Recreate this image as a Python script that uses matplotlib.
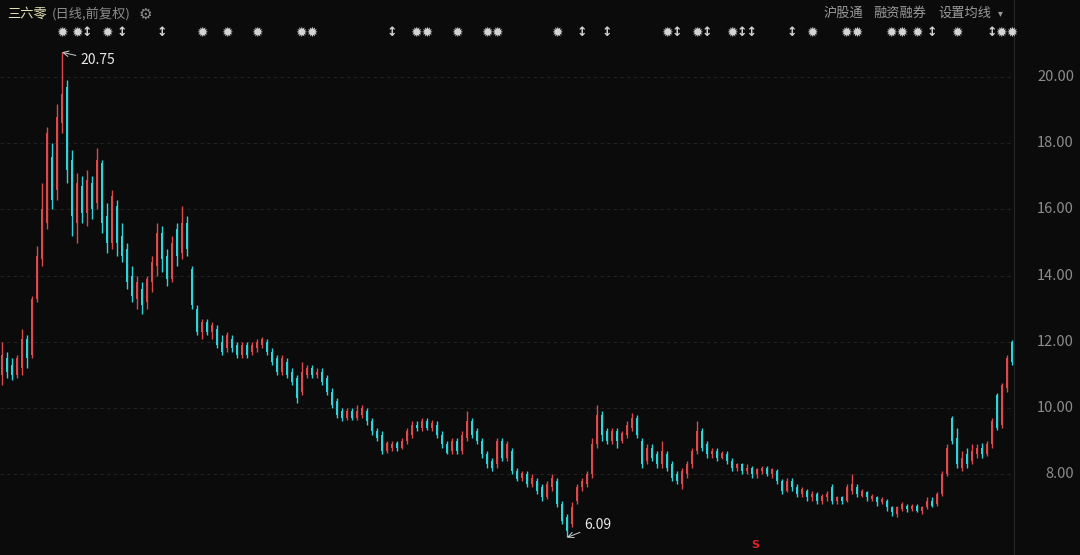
import numpy as np
import matplotlib
matplotlib.use("Agg")
from matplotlib import pyplot as plt
from matplotlib import transforms

plt.rcParams['font.family'] = ['Noto Sans CJK SC', 'DejaVu Sans']

# daily candles (前复权), one entry per bar
opens = [11.0, 11.5, 11.3, 11.0, 11.2, 12.1, 11.6, 13.3, 14.5, 15.6,
         17.6, 16.6, 18.6, 19.7, 17.5, 15.6, 16.7, 15.9, 16.8, 16.2,
         17.4, 15.8, 15.0, 16.1, 15.2, 14.8, 14.0, 13.3, 13.6, 13.2,
         13.8, 14.3, 15.3, 14.6, 13.9, 15.4, 14.7, 15.6, 14.2, 13.0,
         12.3, 12.6, 12.3, 12.4, 12.0, 11.8, 12.1, 11.9, 11.6, 11.9,
         11.7, 11.8, 11.9, 12.0, 11.7, 11.5, 11.1, 11.4, 11.1, 10.9,
         10.5, 11.0, 11.2, 11.0, 11.1, 10.9, 10.5, 10.2, 9.9, 9.7,
         9.9, 9.7, 9.8, 9.9, 9.6, 9.3, 9.2, 8.7, 8.8, 8.95,
         8.8, 9.0, 9.2, 9.5, 9.4, 9.6, 9.4, 9.5, 9.2, 8.9,
         8.7, 9.0, 8.7, 9.1, 9.6, 9.3, 9.0, 8.6, 8.4, 8.3,
         9.0, 8.5, 8.7, 8.1, 7.9, 8.0, 7.7, 7.8, 7.6, 7.3,
         7.6, 7.8, 7.1, 6.7, 6.5, 7.2, 7.6, 7.7, 8.0, 8.9,
         9.8, 9.3, 9.0, 9.3, 9.0, 9.2, 9.4, 9.7, 9.0, 8.4,
         8.8, 8.6, 8.3, 8.6, 8.3, 8.0, 7.7, 8.0, 8.3, 8.7,
         9.3, 8.9, 8.6, 8.7, 8.5, 8.6, 8.4, 8.2, 8.3, 8.1,
         8.2, 8.0, 8.1, 8.2, 8.0, 8.1, 7.8, 7.5, 7.8, 7.6,
         7.4, 7.5, 7.3, 7.4, 7.2, 7.3, 7.6, 7.2, 7.3, 7.2,
         7.5, 7.6, 7.35, 7.45, 7.25, 7.3, 7.15, 7.2, 7.0, 6.8,
         6.95, 7.05, 6.95, 7.05, 6.9, 7.0, 7.2, 7.1, 7.4, 8.0,
         9.7, 9.1, 8.2, 8.6, 8.4, 8.6, 8.8, 8.6, 8.9, 10.4,
         9.5, 10.6, 12.0]
closes = [11.6, 11.1, 11.0, 11.5, 12.1, 11.5, 13.3, 14.6, 16.0, 18.3,
          16.3, 18.8, 19.5, 17.2, 15.8, 16.8, 15.9, 16.9, 16.0, 17.5,
          15.6, 15.0, 16.4, 15.0, 14.6, 13.8, 13.4, 13.8, 13.1, 13.9,
          14.4, 15.3, 14.5, 13.9, 15.0, 14.6, 15.6, 14.8, 13.1, 12.3,
          12.6, 12.3, 12.5, 11.9, 11.7, 12.2, 11.8, 11.6, 11.9, 11.6,
          11.9, 12.0, 12.1, 11.7, 11.4, 11.1, 11.5, 11.0, 10.8, 10.3,
          11.1, 11.2, 11.0, 11.1, 10.8, 10.5, 10.1, 9.8, 9.7, 9.9,
          9.7, 9.9, 10.0, 9.6, 9.3, 9.1, 8.7, 8.95, 8.9, 8.8,
          9.0, 9.3, 9.5, 9.4, 9.6, 9.4, 9.55, 9.2, 8.9, 8.65,
          9.0, 8.7, 9.2, 9.6, 9.2, 9.0, 8.6, 8.3, 8.2, 9.0,
          8.5, 8.9, 8.1, 7.85, 8.05, 7.7, 7.9, 7.5, 7.3, 7.7,
          7.9, 7.1, 6.6, 6.3, 7.0, 7.6, 7.8, 8.0, 8.9, 9.8,
          9.2, 9.0, 9.3, 9.0, 9.25, 9.5, 9.7, 9.2, 8.3, 8.8,
          8.5, 8.3, 8.7, 8.2, 7.9, 7.8, 8.1, 8.3, 8.7, 9.3,
          8.8, 8.6, 8.7, 8.5, 8.65, 8.4, 8.2, 8.3, 8.1, 8.2,
          8.0, 8.15, 8.2, 8.0, 8.15, 7.8, 7.5, 7.8, 7.6, 7.4,
          7.55, 7.3, 7.4, 7.2, 7.35, 7.4, 7.2, 7.3, 7.2, 7.6,
          7.7, 7.4, 7.5, 7.3, 7.35, 7.15, 7.25, 7.0, 6.85, 7.0,
          7.1, 6.95, 7.05, 6.9, 7.0, 7.2, 7.05, 7.4, 8.0, 8.8,
          9.0, 8.3, 8.5, 8.3, 8.7, 8.8, 8.6, 8.9, 9.6, 9.4,
          10.7, 11.5, 11.4]
highs = [12.0, 11.7, 11.5, 11.6, 12.4, 12.2, 13.4, 14.9, 16.8, 18.5,
         18.0, 19.2, 20.75, 19.9, 17.8, 17.1, 17.0, 17.2, 17.0, 17.85,
         17.5, 16.2, 16.6, 16.3, 15.6, 15.0, 14.3, 14.0, 13.8, 14.0,
         14.6, 15.6, 15.5, 14.8, 15.2, 15.6, 16.1, 15.8, 14.3, 13.1,
         12.7, 12.7, 12.6, 12.5, 12.2, 12.3, 12.2, 12.0, 12.0, 12.0,
         12.0, 12.1, 12.15, 12.1, 11.8, 11.6, 11.6, 11.5, 11.2, 11.0,
         11.4, 11.3, 11.3, 11.2, 11.2, 11.0, 10.6, 10.3, 10.0, 10.0,
         10.0, 10.1, 10.1, 10.0, 9.7, 9.4, 9.3, 9.0, 9.0, 9.0,
         9.1, 9.4, 9.6, 9.6, 9.7, 9.7, 9.65, 9.6, 9.3, 9.0,
         9.1, 9.1, 9.3, 9.9, 9.7, 9.4, 9.1, 8.7, 8.5, 9.1,
         9.1, 9.0, 8.8, 8.2, 8.1, 8.1, 8.0, 7.9, 7.7, 7.8,
         8.0, 7.9, 7.2, 6.8, 7.15, 7.7, 7.9, 8.1, 9.1, 10.1,
         9.9, 9.4, 9.4, 9.4, 9.3, 9.6, 9.85, 9.8, 9.1, 8.9,
         8.9, 8.7, 9.0, 8.7, 8.4, 8.1, 8.2, 8.4, 8.8, 9.6,
         9.4, 9.0, 8.8, 8.8, 8.7, 8.7, 8.5, 8.35, 8.35, 8.3,
         8.25, 8.2, 8.25, 8.25, 8.2, 8.15, 7.85, 7.9, 7.9, 7.7,
         7.6, 7.55, 7.5, 7.45, 7.4, 7.5, 7.7, 7.35, 7.35, 7.7,
         8.0, 7.7, 7.55, 7.5, 7.4, 7.35, 7.3, 7.25, 7.05, 7.05,
         7.15, 7.1, 7.1, 7.1, 7.05, 7.3, 7.3, 7.45, 8.1, 8.9,
         9.75, 9.4, 8.7, 8.8, 8.9, 8.9, 8.95, 9.0, 9.7, 10.45,
         10.75, 11.6, 12.05]
lows = [10.7, 10.9, 10.85, 10.9, 11.0, 11.2, 11.5, 13.2, 14.3, 15.4,
        16.0, 16.3, 18.3, 16.8, 15.2, 15.0, 15.6, 15.5, 15.7, 16.0,
        15.3, 14.7, 14.8, 14.6, 14.4, 13.6, 13.2, 13.0, 12.85, 13.0,
        13.5, 14.0, 14.1, 13.7, 13.8, 14.3, 14.5, 14.6, 13.0, 12.2,
        12.1, 12.2, 12.1, 11.8, 11.6, 11.7, 11.7, 11.5, 11.5, 11.5,
        11.6, 11.7, 11.8, 11.6, 11.3, 11.0, 11.0, 10.9, 10.7, 10.15,
        10.4, 10.9, 10.9, 10.9, 10.7, 10.4, 10.0, 9.7, 9.6, 9.65,
        9.65, 9.65, 9.7, 9.5, 9.2, 9.0, 8.6, 8.65, 8.7, 8.7,
        8.75, 8.9, 9.1, 9.3, 9.3, 9.35, 9.3, 9.1, 8.8, 8.6,
        8.6, 8.6, 8.6, 9.0, 9.1, 8.9, 8.5, 8.2, 8.1, 8.2,
        8.4, 8.4, 8.0, 7.8, 7.8, 7.6, 7.6, 7.4, 7.2, 7.25,
        7.5, 7.0, 6.5, 6.09, 6.4, 7.1, 7.5, 7.6, 7.9, 8.8,
        9.0, 8.9, 8.9, 8.8, 8.95, 9.1, 9.3, 9.1, 8.2, 8.3,
        8.4, 8.2, 8.2, 8.1, 7.8, 7.7, 7.55, 7.9, 8.2, 8.6,
        8.7, 8.5, 8.5, 8.4, 8.45, 8.3, 8.1, 8.1, 8.0, 8.0,
        7.9, 7.9, 8.0, 7.95, 7.9, 7.7, 7.4, 7.45, 7.5, 7.3,
        7.3, 7.2, 7.2, 7.1, 7.1, 7.2, 7.1, 7.1, 7.1, 7.15,
        7.4, 7.3, 7.3, 7.2, 7.2, 7.05, 7.1, 6.9, 6.75, 6.7,
        6.9, 6.85, 6.9, 6.85, 6.8, 6.95, 7.0, 7.05, 7.35, 7.95,
        8.9, 8.2, 8.1, 8.2, 8.3, 8.5, 8.5, 8.55, 8.8, 9.35,
        9.4, 10.5, 11.3]

price_ticks = [8.0, 10.0, 12.0, 14.0, 16.0, 18.0, 20.0]

# event flags along the top row: bar index and kind
event_idx = [12, 15, 17, 21, 24, 32, 40, 45, 51, 61, 78, 84, 91, 97, 99,
             111, 116, 121, 133, 135, 139, 141, 146, 149, 158, 162, 170,
             179, 183, 186, 191, 198, 201]
event_kind = ['s', 's', 'a', 's', 'a', 'a', 's', 's', 's', 'ss', 'a', 'ss',
              's', 's', 's', 's', 'a', 'a', 's', 'a', 's', 'a', 's', 'aa',
              'a', 's', 'ss', 'ss', 's', 'a', 's', 'a', 'ss']

UP = '#dc4a4e'
DOWN = '#2fd3d8'
BG = '#0b0b0b'

o = np.array(opens)
c = np.array(closes)
h = np.array(highs)
l = np.array(lows)
x = np.arange(len(o))
up = c >= o

fig = plt.figure(figsize=(10.8, 5.55), dpi=100, facecolor=BG)
ax = fig.add_axes([0, 0, 1014 / 1080, 1])
ax.set_facecolor(BG)

ax.set_ylim(5.56, 22.33)
ax.set_xlim(-0.4, 202.4)

for t in price_ticks:
    ax.axhline(t, color='#222222', lw=0.8, ls=(0, (3, 3)), zorder=0)

colors = np.where(up, UP, DOWN)
ax.vlines(x, l, h, colors=colors, lw=1.0, zorder=2)
bottoms = np.minimum(o, c)
heights = np.maximum(np.abs(c - o), 0.03)
ax.bar(x, heights, bottom=bottoms, width=0.48, color=colors, lw=0, zorder=3)

for s in ['top', 'left', 'bottom']:
    ax.spines[s].set_visible(False)
ax.spines['right'].set_color('#262626')
ax.set_xticks([])
ax.set_yticks([])

# price labels on the right margin
for t in price_ticks:
    ax.annotate(f'{t:.2f}', xy=(1, t), xycoords=('axes fraction', 'data'),
                xytext=(60, 0), textcoords='offset pixels',
                ha='right', va='center', color='#8c8c8c', fontsize=10.5)

# high / low annotations
ih = int(np.argmax(h))
il = int(np.argmin(l))
ax.annotate(f'{h[ih]:.2f}', xy=(ih, h[ih]), xytext=(18, -8),
            textcoords='offset pixels', ha='left', va='center',
            color='#e8e8e8', fontsize=10,
            arrowprops=dict(arrowstyle='->', color='#d0d0d0', lw=0.7,
                            shrinkA=1, shrinkB=0))
ax.annotate(f'{l[il]:.2f}', xy=(il, l[il]), xytext=(17, 12),
            textcoords='offset pixels', ha='left', va='center',
            color='#e8e8e8', fontsize=10,
            arrowprops=dict(arrowstyle='->', color='#d0d0d0', lw=0.7,
                            shrinkA=1, shrinkB=0))

# event row
trans = transforms.blended_transform_factory(ax.transData, ax.transAxes)
glyph = {'s': '\u2739', 'a': '\u2195'}
for ix, kind in zip(event_idx, event_kind):
    label = ''.join(glyph[k] for k in kind)
    size = 10 if kind[0] == 's' else 9
    ax.text(ix, 1 - 33 / 555, label, transform=trans, ha='center',
            va='center', color='#d4d4d4', fontsize=size,
            family='DejaVu Sans', fontweight='bold')

ax.text(150.6, 1 - 545 / 555, 'S', transform=trans, ha='center',
        va='center', color='#e02020', fontsize=8, fontweight='bold',
        family='DejaVu Sans')

# header texts
fig.text(7 / 1080, 1 - 14 / 555, '三六零', color='#e2dfb0', fontsize=9.5,
         ha='left', va='center')
fig.text(52 / 1080, 1 - 14 / 555, '(日线,前复权)', color='#8c8c8c',
         fontsize=9.5, ha='left', va='center')
fig.text(145 / 1080, 1 - 14 / 555, '\u2699', color='#8c8c8c', fontsize=11,
         ha='center', va='center', family='DejaVu Sans')
fig.text(843 / 1080, 1 - 13 / 555, '沪股通', color='#9a9a9a', fontsize=9.5,
         ha='center', va='center')
fig.text(900 / 1080, 1 - 13 / 555, '融资融券', color='#9a9a9a', fontsize=9.5,
         ha='center', va='center')
fig.text(965 / 1080, 1 - 13 / 555, '设置均线', color='#9a9a9a', fontsize=9.5,
         ha='center', va='center')
fig.text(1000 / 1080, 1 - 13 / 555, '\u25be', color='#9a9a9a', fontsize=7,
         ha='center', va='center', family='DejaVu Sans')

fig.savefig('out.png', dpi=100, facecolor=BG)
